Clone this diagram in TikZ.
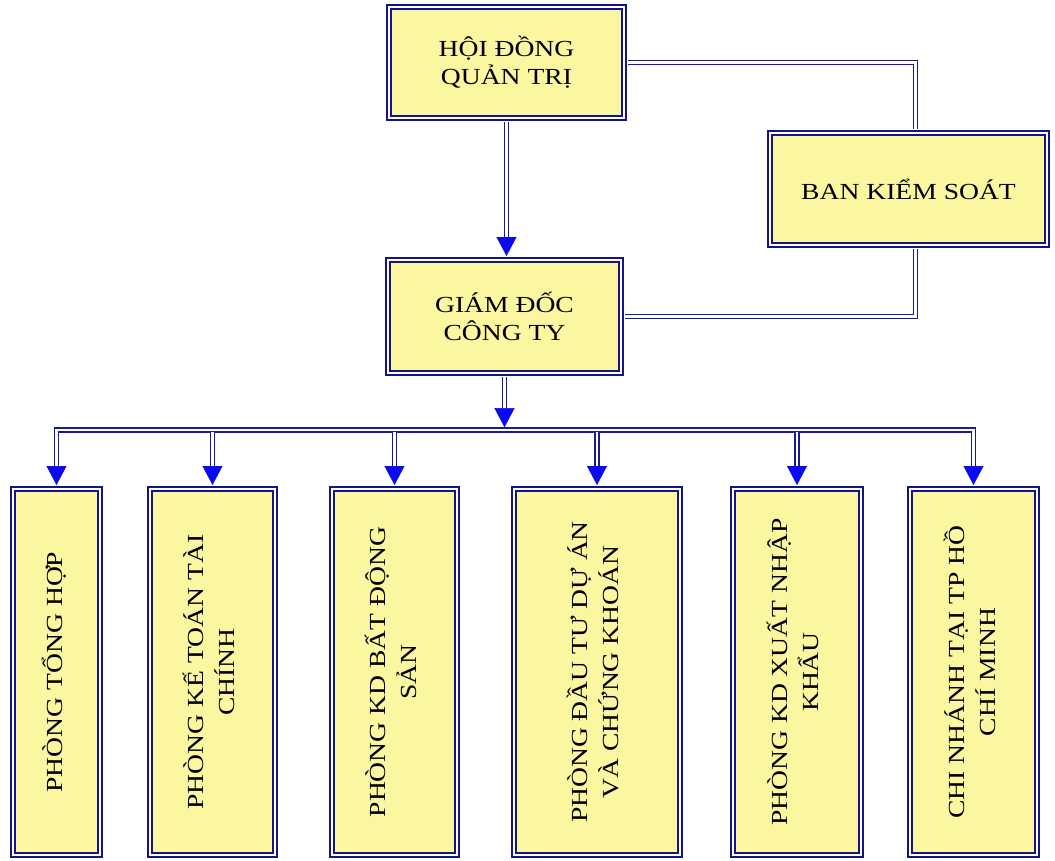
\documentclass[tikz,border=0pt]{standalone}
\usepackage{fontspec}
\usepackage{tikz}
\usetikzlibrary{arrows.meta,positioning}
\newfontfamily\boxfont[FakeStretch=1.2]{Liberation Serif}
\definecolor{boxline}{HTML}{14148A}
\definecolor{boxfill}{HTML}{FBF7A0}
\definecolor{linkcol}{HTML}{1A1A96}
\definecolor{headcol}{HTML}{0A0AF0}
\newcommand{\vlabel}[1]{\rotatebox{90}{\begin{tabular}{@{}c@{}}#1\end{tabular}}}
\renewcommand{\arraystretch}{1.1}

\begin{document}
\begin{tikzpicture}[
  x=1pt,
  y=-1pt,
  unit/.style={draw=boxline, double=white, double distance=1.4pt, line width=2.2pt, fill=boxfill, inner sep=0pt, align=center, font=\boxfont\fontsize{23}{28}\selectfont},
  dept/.style={unit, minimum height=366pt},
  link/.style={draw=linkcol, line width=5.6pt, postaction={draw=white, line width=2.2pt}},
  arr/.style={draw=linkcol, line width=5.6pt, -{Triangle[length=19pt,width=20pt,line width=0.4pt,color=headcol]}, postaction={draw=white, line width=2.2pt, -, shorten >=22pt}},
  arrboth/.style={draw=linkcol, line width=5.6pt, {Triangle[length=19pt,width=20pt,line width=0.4pt,color=headcol]}-{Triangle[length=19pt,width=20pt,line width=0.4pt,color=headcol]}, postaction={draw=white, line width=2.2pt, -, shorten >=22pt, shorten <=22pt}}
]
\useasboundingbox (0,0) rectangle (1055,860);

\node[unit, minimum width=235pt, minimum height=111pt] (hdqt) at (506.5,62.5) {HỘI ĐỒNG\\QUẢN TRỊ};
\node[unit, minimum width=277pt, minimum height=112pt] (bks) at (908.5,189) {BAN KIỂM SOÁT};
\node[unit, minimum width=233pt, minimum height=113pt] (gd) at (504.5,316.5) {GIÁM ĐỐC\\CÔNG TY};

\node[dept, minimum width=87pt] (th) at (56.5,672) {\vlabel{PHÒNG TỔNG HỢP}};
\node[dept, minimum width=125pt] (kt) at (212.5,672) {\vlabel{PHÒNG KẾ TOÁN TÀI\\CHÍNH}};
\node[dept, minimum width=125pt] (bds) at (394.5,672) {\vlabel{PHÒNG KD BẤT ĐỘNG\\SẢN}};
\node[dept, minimum width=166pt] (dt) at (597,672) {\vlabel{PHÒNG ĐẦU TƯ DỰ ÁN\\VÀ CHỨNG KHOÁN}};
\node[dept, minimum width=128pt] (xnk) at (797,672) {\vlabel{PHÒNG KD XUẤT NHẬP\\KHẨU}};
\node[dept, minimum width=127pt] (cn) at (973.5,672) {\vlabel{CHI NHÁNH TẠI TP HỒ\\CHÍ MINH}};

\coordinate (bus) at (0,430);
\coordinate (drop) at (0,432);

\draw[arr, shorten <=2.9pt, shorten >=2.9pt] (hdqt.south) -- (hdqt.south |- gd.north);
\draw[link, shorten <=2.9pt, shorten >=2.9pt] (hdqt.east) -| ([xshift=7pt]bks.north);
\draw[link, shorten <=2.9pt, shorten >=2.9pt] ([xshift=7pt]bks.south) |- (gd.east);

\draw[arrboth, shorten <=2.9pt, shorten >=2.9pt] (th.north) |- (gd.south |- bus) -| (cn.north);
\draw[arr, shorten <=2.9pt, shorten >=2.8pt] (gd.south) -- (gd.south |- bus);
\draw[arr, shorten >=2.9pt] (kt.north |- drop) -- (kt.north);
\draw[arr, shorten >=2.9pt] (bds.north |- drop) -- (bds.north);
\draw[arr, shorten >=2.9pt] (dt.north |- drop) -- (dt.north);
\draw[arr, shorten >=2.9pt] (xnk.north |- drop) -- (xnk.north);
\end{tikzpicture}
\end{document}
